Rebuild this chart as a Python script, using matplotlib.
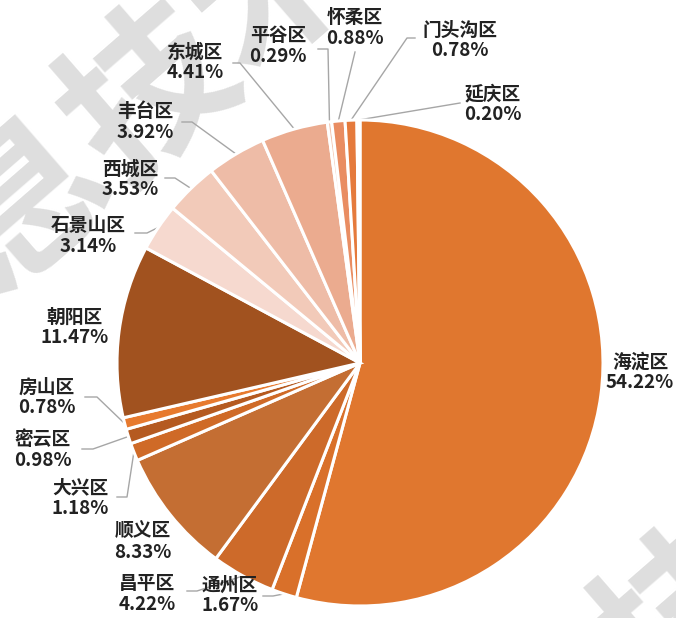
import matplotlib
matplotlib.use('Agg')
import matplotlib.pyplot as plt
import numpy as np

plt.rcParams['font.family'] = ['Noto Sans CJK SC', 'DejaVu Sans']

# data
districts = ['海淀区', '通州区', '昌平区', '顺义区', '大兴区', '密云区', '房山区', '朝阳区',
             '石景山区', '西城区', '丰台区', '东城区', '平谷区', '怀柔区', '门头沟区', '延庆区']
shares = [54.22, 1.67, 4.22, 8.33, 1.18, 0.98, 0.78, 11.47,
          3.14, 3.53, 3.92, 4.41, 0.29, 0.88, 0.78, 0.20]
colors = ['#E0772F', '#D9702A', '#CD6A2A', '#C46E33', '#CF6A27', '#B55A20', '#E77A2E', '#A1521F',
          '#F6D9CF', '#F2CAB9', '#EEBCA7', '#EBAB8F', '#F3C4AE', '#E98D62', '#E57A3C', '#F2A87A']

# label layout in pixels: text centre, and leader (elbow, end) or None
W, H = 676, 618
CX, CY, R = 360, 363, 243
label_pos = [(640, 372), (230, 595), (147, 594), (143, 542), (80, 498), (43, 450), (47, 397), (75, 327),
             (88, 236), (130, 179), (145, 122), (195, 62), (278, 46), (355, 28), (460, 40), (493, 104)]
leaders = [None, ((273, 596), (263, 596)), ((197, 591), (187, 591)), None,
           ((127, 497), (117, 497)), ((93, 449), (82, 449)), ((97, 397), (85, 397)), None,
           ((147, 233), (135, 233)), ((175, 178), (165, 178)), ((192, 122), (182, 122)),
           ((240, 63), (233, 63)), ((328, 49), (318, 49)), ((355, 52), (355, 52)),
           ((407, 38), (415, 38)), ((460, 103), (460, 103))]


def px(x, y):
    return (x - CX) / R, (CY - y) / R


fig = plt.figure(figsize=(W / 100, H / 100), dpi=100)
ax = fig.add_axes([0, 0, 1, 1])

# watermark
wm = dict(fontsize=120, color='#DEDEDE', fontweight='bold', rotation=41,
          ha='center', va='center', zorder=0, clip_on=True)
ax.text(*px(90, 150), '信息技术', **wm)
ax.text(*px(625, 672), '信息技术', **wm)

wedges, _ = ax.pie(shares, colors=colors, startangle=90, counterclock=False, radius=1,
                   wedgeprops=dict(edgecolor='white', linewidth=2.2), frame=True)
for w in wedges:
    w.set_zorder(2)
ax.axis('off')
ax.set_xlim(-CX / R, (W - CX) / R)
ax.set_ylim(-(H - CY) / R, CY / R)
ax.set_aspect('auto')

cum = np.cumsum(shares) - np.array(shares) / 2
total = sum(shares)
for name, val, c, pos, ld in zip(districts, shares, cum, label_pos, leaders):
    ax.text(*px(*pos), f'{name}\n{val:.2f}%', ha='center', va='center', fontsize=13.5,
            fontweight='bold', color='#222222', linespacing=1.08, zorder=3)
    if ld is not None:
        ang = np.deg2rad(90 - c / total * 360)
        sx, sy = np.cos(ang), np.sin(ang)
        ex, ey = px(*ld[0])
        fx, fy = px(*ld[1])
        ax.plot([sx, ex, fx], [sy, ey, fy], color='#A6A6A6', lw=1, zorder=1)

fig.savefig('out.png', dpi=100)
